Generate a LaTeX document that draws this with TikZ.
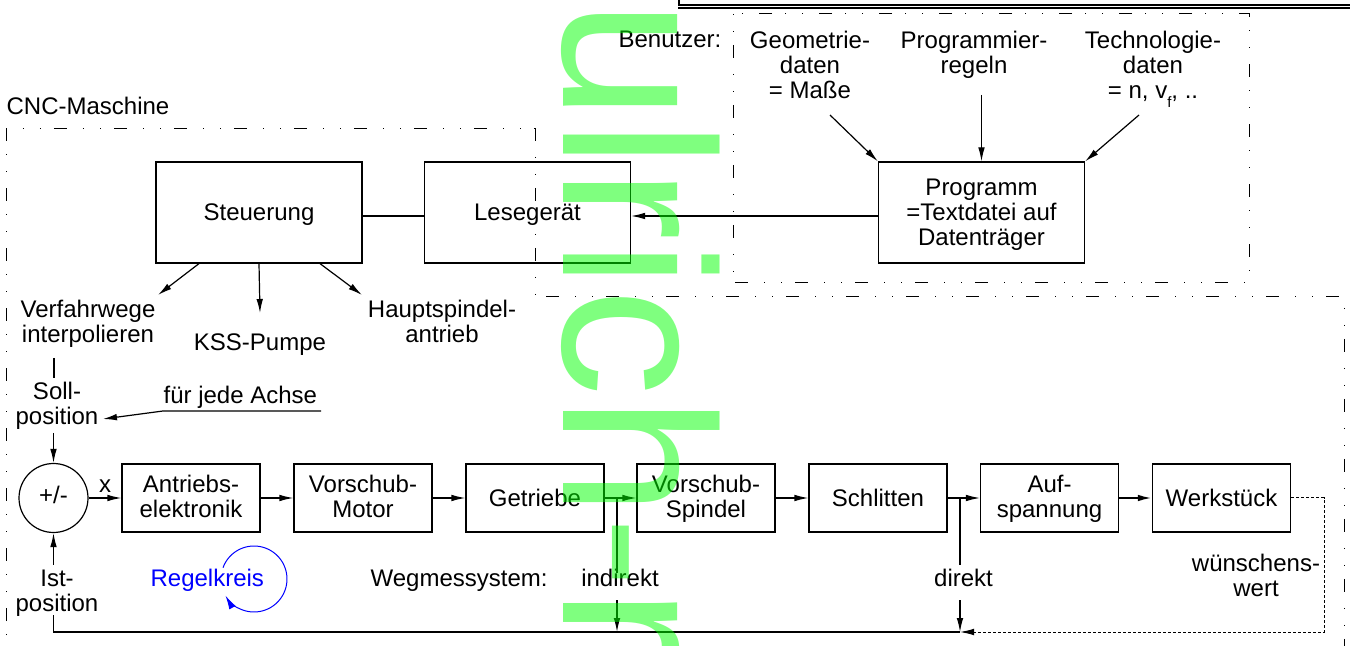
\documentclass[tikz,border=0pt]{standalone}
\usepackage{fontspec}
\setmainfont{Liberation Sans}
\usetikzlibrary{arrows.meta,calc}
\newcommand{\mlines}[1]{\begin{tabular}[t]{@{}c@{}}#1\end{tabular}}
\definecolor{wmgreen}{RGB}{0,255,0}
\definecolor{rkblue}{RGB}{0,0,255}
\begin{document}
\begin{tikzpicture}[x=0.5pt,y=-0.5pt,
  font=\fontsize{12}{12.5}\selectfont, line width=0.6pt,
  box/.style={draw, rectangle, inner sep=0pt},
  bigbox/.style={box, minimum width=103pt, minimum height=50.5pt},
  rowbox/.style={box, minimum width=69pt, minimum height=34pt},
  txt/.style={anchor=base, inner sep=0pt},
  ltxt/.style={anchor=base west, inner sep=0pt},
  arr/.style={-{Latex[length=7pt,width=3.3pt]}},
  dashdot/.style={line width=0.5pt, dash pattern=on 0.6pt off 7.9pt on 0.6pt off 6.4pt on 6.5pt off 8pt},
  fbdot/.style={line width=0.5pt, dash pattern=on 1.5pt off 1pt}]
\useasboundingbox (0,0) rectangle (1350,646);

% frames
\draw (679,-2) -- (679,5) -- (1352,5);
\draw (678,8) -- (1352,8);
\draw[dashdot] (733,14) rectangle (1249,283);
\draw[dashdot] (6,652) -- (6,129) -- (535,129) -- (535,297) -- (1344,297) -- (1344,652);

% labels
\node[ltxt] (cnc) at (6,115) {CNC-Maschine};
\node[ltxt] (benutzer) at (618,48) {Benutzer:};
\node[txt] (geo) at (810,49) {\mlines{Geometrie-\\daten\\= Maße}};
\node[txt] (prr) at (974,49) {\mlines{Programmier-\\regeln}};
\node[txt] (tech) at (1153,49) {\mlines{Technologie-\\daten\\= n, v\raisebox{-4.5pt}{\fontsize{7.5}{7.5}\selectfont f}, ..}};

% upper boxes
\node[bigbox] (steu) at (259,212.5) {};
\node[txt] (steut) at (259,221) {Steuerung};
\node[bigbox] (lese) at (527.5,212.5) {};
\node[txt] (leset) at (527.5,221) {Lesegerät};
\node[bigbox] (prog) at (981.5,212.5) {};
\node[txt] (progt) at (981.5,196) {\mlines{Programm\\=Textdatei auf\\Datenträger}};

\coordinate (y216) at (0,216);
\draw (steu.east |- y216) -- (lese.west |- y216);
\draw[arr] (prog.west |- y216) -- (lese.east |- y216);

\coordinate (ga) at (830,115);
\coordinate (pa) at (981.5,95);
\coordinate (ta) at (1139,115);
\draw[arr] (ga) -- (prog.north west);
\draw[arr] (pa) -- (prog.north);
\draw[arr] (ta) -- (prog.north east);

% outputs of Steuerung
\node[txt] (vfw) at (88,318) {\mlines{Verfahrwege\\interpolieren}};
\node[txt] (kss) at (260,351) {KSS-Pumpe};
\node[txt] (hsp) at (442,318) {\mlines{Hauptspindel-\\antrieb}};
\coordinate (vfwa) at (158,295);
\coordinate (kssa) at (260,313);
\coordinate (hspa) at (362,295);
\draw[arr] ($(steu.south)+(-60,0)$) -- (vfwa);
\draw[arr] (steu.south) -- (kssa);
\draw[arr] ($(steu.south)+(61,0)$) -- (hspa);

% Soll / Ist
\coordinate (ip1) at (54,358);
\coordinate (ip2) at (54,378);
\draw (ip1) -- (ip2);
\node[txt] (soll) at (57,400) {\mlines{Soll-\\position}};
\node[ltxt] (achse) at (163,404) {für jede Achse};
\coordinate (ac1) at (321,411);
\coordinate (ac2) at (163,411);
\coordinate (ac3) at (103,419);
\draw[arr] (ac1) -- (ac2) -- (ac3);

\node[circle, draw, minimum size=34.5pt, inner sep=0pt] (sum) at (53.5,498) {};
\node[txt] (sumt) at (53.5,504) {+/-};
\coordinate (sollb) at (53.5,433);
\draw[arr] (sollb) -- (sum.north);
\node[txt] (ist) at (57,587) {\mlines{Ist-\\position}};
\coordinate (istt) at (53.5,565);
\draw[arr] (istt) -- (sum.south);

% row of boxes
\node[rowbox] (b1) at (191,498) {};
\node[txt] (b1t) at (191,493) {\mlines{Antriebs-\\elektronik}};
\node[rowbox] (b2) at (363,498) {};
\node[txt] (b2t) at (363,493) {\mlines{Vorschub-\\Motor}};
\node[rowbox] (b3) at (535,498) {};
\node[txt] (b3t) at (535,506.5) {Getriebe};
\node[rowbox] (b4) at (706,498) {};
\node[txt] (b4t) at (706,493) {\mlines{Vorschub-\\Spindel}};
\node[rowbox] (b5) at (878,498) {};
\node[txt] (b5t) at (878,506.5) {Schlitten};
\node[rowbox] (b6) at (1049.5,498) {};
\node[txt] (b6t) at (1049.5,493) {\mlines{Auf-\\spannung}};
\node[rowbox] (b7) at (1221.5,498) {};
\node[txt] (b7t) at (1221.5,506.5) {Werkstück};

\node[txt] (xl) at (105,493) {x};
\draw[arr] (sum.east) -- (b1.west);
\draw[arr] (b1) -- (b2);
\draw[arr] (b2) -- (b3);
\draw[arr] (b3) -- (b4);
\draw[arr] (b4) -- (b5);
\draw[arr] (b5) -- (b6);
\draw[arr, line width=1pt] (b6) -- (b7);

% measuring branches
\node[ltxt] (weg) at (370,587) {Wegmessystem:};
\node[txt] (ind) at (620,587) {indirekt};
\node[txt] (dir) at (963.5,587) {direkt};
\node[txt] (wue) at (1256,572) {\mlines{wünschens-\\wert}};

\coordinate (br1) at (617,498);
\coordinate (br1a) at (617,573);
\coordinate (br1b) at (617,600);
\coordinate (br1c) at (617,632);
\draw (br1) -- (br1a);
\draw[arr] (br1b) -- (br1c);

\coordinate (br2) at (960,498);
\coordinate (br2a) at (960,565);
\coordinate (br2b) at (960,600);
\coordinate (fbm) at (960,632);
\draw (br2) -- (br2a);
\draw[arr] (br2b) -- (fbm);

\coordinate (ista) at (53.5,615);
\coordinate (istb) at (53.5,632);
\draw (ista) -- (istb) -- (fbm);

\coordinate (wk1) at (1324,498);
\coordinate (wk2) at (1324,632);
\draw[fbdot, arr] (b7.east) -- (wk1) -- (wk2) -- (fbm);

% Regelkreis
\node[ltxt, text=rkblue] (rk) at (150,587) {Regelkreis};
\coordinate (rkc) at (254,579);
\draw[rkblue, line width=0.5pt, -{Latex[length=7pt,width=3.6pt]}] ($(rkc)+(-160:33)$) arc[start angle=-160, end angle=150, radius=33];

% watermark
\node[rotate=-90, anchor=base west, inner sep=0pt, text=wmgreen, text opacity=0.5,
  font=\fontsize{108}{108}\selectfont] (wm) at (563,0) {ulrich-r};
\end{tikzpicture}
\end{document}
